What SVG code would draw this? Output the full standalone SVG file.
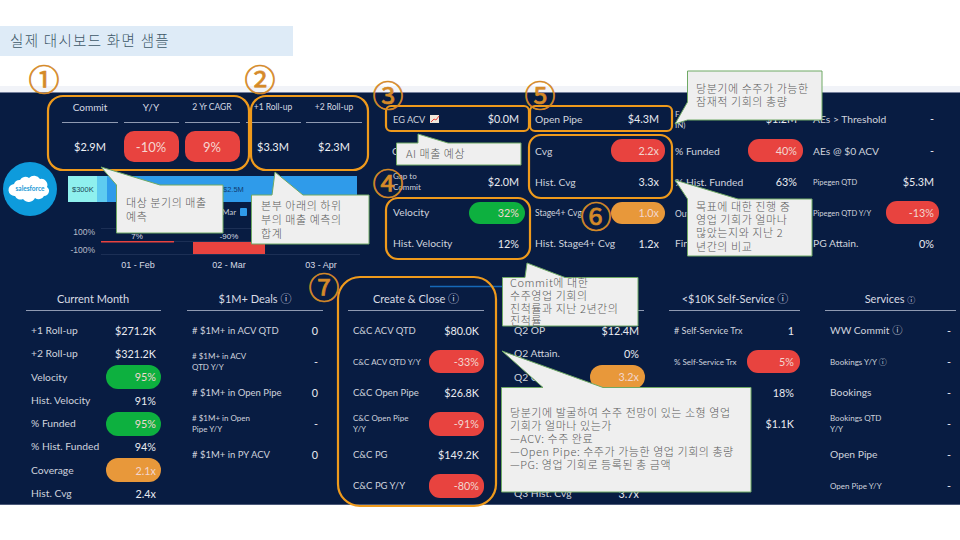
<svg xmlns="http://www.w3.org/2000/svg" width="960" height="540" viewBox="0 0 960 540">
<style>
text{font-family:Lato,"Noto Sans","Noto Sans CJK KR",sans-serif}
.h{fill:#d5d9e2;font-size:10px;text-anchor:middle}
.hs{fill:#d5d9e2;font-size:8.5px;text-anchor:middle}
.big{fill:#eef0f4;font-size:11px;text-anchor:middle}
.l{fill:#cfd3dd;font-size:10.300px}
.s{fill:#cfd3dd;font-size:8px}
.v{fill:#e8eaf0;font-size:10.800px;text-anchor:end}
.p{fill:#f2d6d0;font-size:10.800px;text-anchor:end}
.t{fill:#d8dbe4;font-size:11px;text-anchor:middle}
.ln{stroke:#8f9ab2;stroke-width:1;fill:none}
.r{fill:#e8433f}.g{fill:#0db03f}.o{fill:#e8983a}
.box{fill:none;stroke:#ef9a1c;stroke-width:2.2}
.num{fill:#d58a28;stroke:#d58a28;stroke-width:.7;font-family:"Noto Sans CJK KR",sans-serif;font-size:31px;text-anchor:middle}
.c{fill:#efefef;stroke:#6fa964;stroke-width:1}
.ct{fill:#5a5a5a;font-family:"Noto Sans CJK KR",sans-serif;font-size:11px;letter-spacing:.55px;font-weight:300}
.ax{fill:#b8bdca;font-size:8.500px;text-anchor:end;font-family:"Liberation Sans",sans-serif}
.m{fill:#d8dbe4;font-size:9px;text-anchor:middle;font-family:"Liberation Sans",sans-serif}
</style>
<rect width="960" height="540" fill="#fff"/>
<g id="title">
<rect x="0" y="26" width="293" height="30" fill="#deebf7"/>
<text x="10" y="45.500" fill="#3d5868" style="font-family:'Noto Sans CJK KR',sans-serif;font-size:14.500px;letter-spacing:1.300px;font-weight:300">실제 대시보드 화면 샘플</text>
</g>
<g id="dashboard">
<rect x="0" y="86" width="960" height="6" fill="#f1f3f8"/>
<rect x="0" y="92" width="960" height="413" fill="#081c42"/>
<rect x="0" y="92" width="960" height="1" fill="#75809c"/>
<rect x="0" y="504" width="960" height="1" fill="#4a5878"/>
</g>
<g id="kpi-top">
<text class="h" x="90" y="111">Commit</text><text class="h" x="151" y="111">Y/Y</text><text class="hs" x="212" y="110">2 Yr CAGR</text><text class="hs" x="273" y="110">+1 Roll-up</text><text class="hs" x="334" y="110">+2 Roll-up</text>
<path class="ln" d="M62 122.500H118M124 122.500H179M185 122.500H240M246 122.500H301M306 122.500H362"/>
<text class="big" x="90" y="151">$2.9M</text>
<rect class="r" x="124" y="131" width="55" height="31" rx="10"/><rect class="r" x="185" y="131" width="55" height="31" rx="10"/>
<text class="big" x="151" y="152" style="fill:#f6d5d0;font-size:13px">-10%</text><text class="big" x="212" y="152" style="fill:#f6d5d0;font-size:13px">9%</text>
<text class="big" x="273" y="151">$3.3M</text><text class="big" x="334" y="151">$2.3M</text>
</g>
<g id="salesforce">
<circle cx="30" cy="189" r="27" fill="#0e9bdc"/>
<path d="M20 180a6 6 0 0 1 9-2a7 7 0 0 1 11 1a6 6 0 0 1 7 8a5 5 0 0 1-3 9a6 6 0 0 1-9 2a7 7 0 0 1-12 1a6 6 0 0 1-8-3a6 6 0 0 1-1-12a6 6 0 0 1 6-4z" fill="#fff"/>
<text x="30" y="191" text-anchor="middle" style="font-size:6.500px;fill:#1b9ad6;font-weight:700">salesforce</text>
</g>
<g id="chart">
<rect x="68" y="176" width="29" height="26" fill="#8ff0ee"/><rect x="97" y="176" width="10" height="26" fill="#5ecbf0"/><rect x="107" y="176" width="250" height="26" fill="#2f9bea"/>
<text x="72" y="192" style="font-size:7.500px;fill:#1c4a5a;font-family:'Liberation Sans',sans-serif">$300K</text><text x="223" y="192" style="font-size:7.500px;fill:#123c70;font-family:'Liberation Sans',sans-serif">$2.5M</text>
<text x="222" y="215" style="font-size:8px;fill:#c5cad6">Mar</text><rect x="240" y="208" width="7" height="8" rx="1" fill="#2f9bea"/>
<path d="M101 228.500H360M101 241.500H360M101 254.500H360" stroke="#1c2f55" fill="none"/>
<text class="ax" x="95" y="235">100%</text><text class="ax" x="95" y="253">-100%</text>
<rect x="101" y="241" width="73" height="1.500" fill="#e8433f"/><rect x="193" y="242" width="72" height="12" fill="#e8433f"/>
<text x="137" y="239" text-anchor="middle" style="font-size:8px;fill:#d8dbe4;font-family:'Liberation Sans',sans-serif">7%</text><text x="229" y="239" text-anchor="middle" style="font-size:8px;fill:#d8dbe4;font-family:'Liberation Sans',sans-serif">-90%</text>
<text class="m" x="138" y="268">01 - Feb</text><text class="m" x="229" y="268">02 - Mar</text><text class="m" x="321" y="268">03 - Apr</text>
</g>
<g id="col-gap">
<text class="l" x="393" y="123" style="font-size:9.200px">EG ACV</text>
<rect x="430" y="115" width="9" height="8" fill="#f0e8dc"/><path d="M431 122l3-3 2 1 3-4" stroke="#e8433f" fill="none"/>
<text class="v" x="519" y="123">$0.0M</text>
<text class="l" x="392" y="155">C</text>
<text class="s" x="393" y="179">Gap to</text><text class="s" x="393" y="190">Commit</text><text class="v" x="519" y="186">$2.0M</text>
<text class="l" x="393" y="216">Velocity</text><rect class="g" x="469" y="202" width="56" height="22" rx="11"/><text class="p" x="519" y="217">32%</text>
<text class="l" x="393" y="247">Hist. Velocity</text><text class="v" x="519" y="248">12%</text>
</g>
<g id="col-pipe">
<text class="l" x="535" y="123">Open Pipe</text><text class="v" x="659" y="123">$4.3M</text>
<text class="l" x="535" y="155">Cvg</text><rect class="r" x="611" y="139" width="54" height="23" rx="11"/><text class="p" x="659" y="155">2.2x</text>
<text class="l" x="535" y="186">Hist. Cvg</text><text class="v" x="659" y="186">3.3x</text>
<text class="s" x="535" y="216" style="font-size:8.500px">Stage4+ Cvg</text><rect class="o" x="611" y="202" width="54" height="22" rx="11"/><text class="p" x="659" y="217">1.0x</text>
<text class="l" x="535" y="247">Hist. Stage4+ Cvg</text><text class="v" x="659" y="248">1.2x</text>
</g>
<g id="col-funded">
<text class="s" x="675" y="117">F</text><text class="s" x="675" y="128">IN)</text><text class="v" x="797" y="123">$1.2M</text>
<text class="l" x="675" y="155">% Funded</text><rect class="r" x="748" y="139" width="55" height="23" rx="11"/><text class="p" x="797" y="155">40%</text>
<text class="l" x="675" y="186">% Hist. Funded</text><text class="v" x="797" y="186">63%</text>
<text class="l" x="675" y="217" style="font-size:8.500px">Out</text>
<text class="l" x="675" y="247">Fin</text>
</g>
<g id="col-aes">
<text class="l" x="813" y="123">AEs &gt; Threshold</text><text class="v" x="934" y="123">-</text>
<text class="l" x="813" y="155">AEs @ $0 ACV</text><text class="v" x="934" y="155">-</text>
<text class="s" x="813" y="185" style="font-size:7.500px">Pipegen QTD</text><text class="v" x="934" y="186">$5.3M</text>
<text class="s" x="813" y="216" style="font-size:7.500px">Pipegen QTD Y/Y</text><rect class="r" x="886" y="201" width="53" height="23" rx="11"/><text class="p" x="934" y="217">-13%</text>
<text class="l" x="813" y="247">PG Attain.</text><text class="v" x="934" y="248">0%</text>
</g>
<g id="current-month">
<text class="t" x="93" y="303">Current Month</text><path class="ln" d="M26 310.500H161"/>
<text class="l" x="31" y="334">+1 Roll-up</text><text class="v" x="156" y="335">$271.2K</text>
<text class="l" x="31" y="357">+2 Roll-up</text><text class="v" x="156" y="358">$321.2K</text>
<text class="l" x="31" y="381">Velocity</text><rect class="g" x="106" y="365" width="55" height="24" rx="12"/><text class="p" x="156" y="381">95%</text>
<text class="l" x="31" y="404">Hist. Velocity</text><text class="v" x="156" y="405">91%</text>
<text class="l" x="31" y="427">% Funded</text><rect class="g" x="106" y="412" width="55" height="24" rx="12"/><text class="p" x="156" y="428">95%</text>
<text class="l" x="31" y="450">% Hist. Funded</text><text class="v" x="156" y="451">94%</text>
<text class="l" x="31" y="474">Coverage</text><rect class="o" x="106" y="458" width="55" height="24" rx="12"/><text class="p" x="156" y="475">2.1x</text>
<text class="l" x="31" y="497">Hist. Cvg</text><text class="v" x="156" y="498">2.4x</text>
</g>
<g id="deals">
<text class="t" x="255" y="303">$1M+ Deals ⓘ</text><path class="ln" d="M187 310.500H323"/>
<text class="l" x="192" y="334" style="font-size:9.500px"># $1M+ in ACV QTD</text><text class="v" x="318" y="335">0</text>
<text class="s" x="192" y="359"># $1M+ in ACV</text><text class="s" x="192" y="370">QTD Y/Y</text><text class="v" x="318" y="366">-</text>
<text class="l" x="192" y="396" style="font-size:9.500px"># $1M+ in Open Pipe</text><text class="v" x="318" y="397">0</text>
<text class="s" x="192" y="421"># $1M+ in Open</text><text class="s" x="192" y="432">Pipe Y/Y</text><text class="v" x="318" y="428">-</text>
<text class="l" x="192" y="458" style="font-size:9.500px"># $1M+ in PY ACV</text><text class="v" x="318" y="459">0</text>
</g>
<g id="create-close">
<path d="M430 286.500H505" stroke="#1568b8" stroke-width="1.500"/>
<text class="t" x="416" y="303">Create &amp; Close ⓘ</text><path class="ln" d="M348 310.500H484"/>
<text class="l" x="353" y="334" style="font-size:9.500px">C&amp;C ACV QTD</text><text class="v" x="479" y="335">$80.0K</text>
<text class="s" x="353" y="365">C&amp;C ACV QTD Y/Y</text><rect class="r" x="429" y="350" width="55" height="23" rx="11"/><text class="p" x="479" y="366">-33%</text>
<text class="l" x="353" y="396" style="font-size:9.500px">C&amp;C Open Pipe</text><text class="v" x="479" y="397">$26.8K</text>
<text class="s" x="353" y="421">C&amp;C Open Pipe</text><text class="s" x="353" y="432">Y/Y</text><rect class="r" x="429" y="412" width="55" height="24" rx="11"/><text class="p" x="479" y="428">-91%</text>
<text class="l" x="353" y="458" style="font-size:9.500px">C&amp;C PG</text><text class="v" x="479" y="459">$149.2K</text>
<text class="l" x="353" y="489" style="font-size:9.500px">C&amp;C PG Y/Y</text><rect class="r" x="429" y="474" width="55" height="24" rx="11"/><text class="p" x="479" y="490">-80%</text>
</g>
<g id="q2">
<path class="ln" d="M508 310.500H644"/>
<text class="l" x="514" y="334">Q2 OP</text><text class="v" x="639" y="335">$12.4M</text>
<text class="l" x="514" y="357">Q2 Attain.</text><text class="v" x="639" y="358">0%</text>
<text class="l" x="514" y="381">Q2 Cvg</text><rect class="o" x="590" y="365" width="55" height="24" rx="12"/><text class="p" x="639" y="381">3.2x</text>
<text class="l" x="514" y="497">Q3 Hist. Cvg</text><text class="v" x="639" y="498">3.7x</text>
</g>
<g id="self-service">
<text class="t" x="735" y="303">&lt;$10K Self-Service ⓘ</text><path class="ln" d="M669 310.500H800"/>
<text class="s" x="674" y="334" style="font-size:9px"># Self-Service Trx</text><text class="v" x="794" y="335">1</text>
<text class="s" x="674" y="365">% Self-Service Trx</text><rect class="r" x="747" y="350" width="53" height="23" rx="11"/><text class="p" x="794" y="366">5%</text>
<text class="v" x="794" y="397">18%</text><text class="v" x="794" y="428">$1.1K</text>
</g>
<g id="services">
<text class="t" x="890" y="303">Services <tspan style="font-size:8px">ⓘ</tspan></text><path class="ln" d="M825 310.500H956"/>
<text class="l" x="830" y="334">WW Commit ⓘ</text><text class="v" x="951" y="335">-</text>
<text class="s" x="830" y="365">Bookings Y/Y ⓘ</text><text class="v" x="951" y="366">-</text>
<text class="l" x="830" y="396">Bookings</text><text class="v" x="951" y="397">-</text>
<text class="s" x="830" y="421">Bookings QTD</text><text class="s" x="830" y="432">Y/Y</text><text class="v" x="951" y="428">-</text>
<text class="l" x="830" y="458">Open Pipe</text><text class="v" x="951" y="459">-</text>
<text class="s" x="830" y="489">Open Pipe Y/Y</text><text class="v" x="951" y="490">-</text>
</g>
<g id="highlights">
<rect class="box" x="48" y="96" width="201" height="74" rx="15"/>
<rect class="box" x="251" y="96" width="117" height="74" rx="15"/>
<rect class="box" x="386" y="106" width="143" height="25" rx="5"/>
<rect class="box" x="530" y="106" width="142" height="25" rx="5"/>
<rect class="box" x="529" y="135" width="143" height="63" rx="12"/>
<rect class="box" x="386" y="198" width="144" height="61" rx="12"/>
<rect class="box" x="338" y="277" width="158" height="229" rx="22"/>
</g>
<g id="numbers">
<text class="num" x="44" y="91">①</text><text class="num" x="260" y="91">②</text><text class="num" x="388" y="107">③</text><text class="num" x="388" y="195">④</text><text class="num" x="540" y="107">⑤</text><text class="num" x="596" y="228">⑥</text><text class="num" x="324" y="299">⑦</text>
</g>
<g id="callouts">
<g id="callout-1"><path class="c" d="M116.500 185L101 167L160 185H223V233H116.500Z"/><text class="ct" x="126" y="207">대상 분기의 매출</text><text class="ct" x="126" y="221">예측</text></g>
<g id="callout-2"><path class="c" d="M251.500 244V195H272L275 172L303 195H369V244Z"/><text class="ct" x="261" y="210">본부 아래의 하위</text><text class="ct" x="261" y="224">부의 매출 예측의</text><text class="ct" x="261" y="238">합계</text></g>
<g id="callout-3"><path class="c" d="M396.500 143H418V134L448 143H521V165H396.500Z"/><text class="ct" x="406" y="158">AI 매출 예상</text></g>
<g id="callout-5"><path class="c" d="M687.500 71H822V120H687.500L675 124L687.500 102Z"/><text class="ct" x="696" y="93">당분기에 수주가 가능한</text><text class="ct" x="696" y="106">잠재적 기회의 총량</text></g>
<g id="callout-6"><path class="c" d="M687.500 199L675 180L738 199H812V256H687.500Z"/><text class="ct" x="696" y="211">목표에 대한 진행 중</text><text class="ct" x="696" y="224">영업 기회가 얼마나</text><text class="ct" x="696" y="237">많았는지와 지난 2</text><text class="ct" x="696" y="251">년간의 비교</text></g>
<g id="callout-4"><path class="c" d="M502.500 277.500H525L527 263L565 277.500H638V326H502.500Z"/><text class="ct" x="510" y="287">Commit에 대한</text><text class="ct" x="510" y="300">수주영업 기회의</text><text class="ct" x="510" y="313">진척률과 지난 2년간의</text><text class="ct" x="510" y="325">진척률</text></g>
<g id="callout-7"><path class="c" d="M501.500 387.500H543L502 351L603 387.500H751V492H501.500Z"/><text class="ct" x="510" y="417">당분기에 발굴하여 수주 전망이 있는 소형 영업</text><text class="ct" x="510" y="430">기회가 얼마나 있는가</text><text class="ct" x="510" y="443">—ACV: 수주 완료</text><text class="ct" x="510" y="456">—Open Pipe: 수주가 가능한 영업 기회의 총량</text><text class="ct" x="510" y="469">—PG: 영업 기회로 등록된 총 금액</text></g>
</g>
</svg>
